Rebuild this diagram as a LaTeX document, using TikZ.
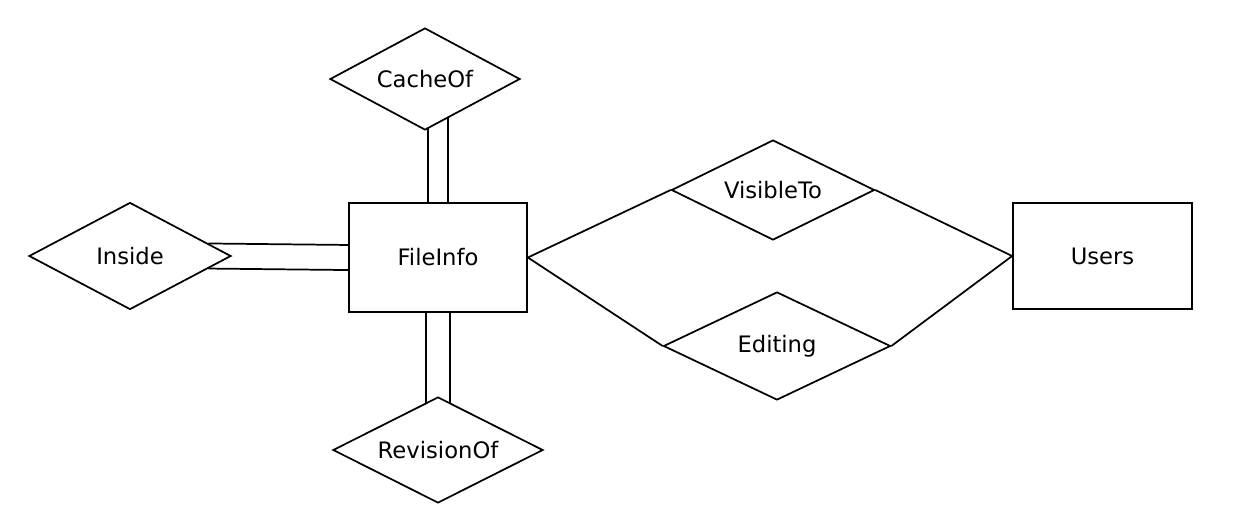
\documentclass[tikz,border=0pt]{standalone}
\usepackage{fontspec}
\setmainfont{DejaVu Sans}
\usetikzlibrary{shapes.geometric,backgrounds}

\tikzset{every picture/.style={line width=1.3pt}}
\tikzset{
  entity/.style={draw, rectangle, fill=white, inner sep=0pt, font=\fontsize{17}{20}\selectfont},
  relation/.style={draw, diamond, aspect=2, fill=white, inner sep=0pt, font=\fontsize{17}{20}\selectfont},
  dbl/.style={line width=1.3pt, double, double distance=#1},
  dbl/.default=13.7pt
}

\begin{document}
\begin{tikzpicture}[x=0.75pt,y=0.75pt,yscale=-1,xscale=1]
\useasboundingbox (0,0) rectangle (1245,522);

%Entities
\node (fileinfo) at (438,257.5) [entity, minimum width=133.5pt, minimum height=81.75pt] {FileInfo};
\node (users) at (1102.5,256) [entity, minimum width=134.25pt, minimum height=79.5pt] {Users};

%Relations
\node (cacheof) at (425,79) [relation, minimum width=142.5pt, minimum height=76.5pt] {CacheOf};
\node (insiderel) at (130,256) [relation, minimum width=151.5pt, minimum height=80.25pt] {Inside};
\node (revisionof) at (438,450) [relation, minimum width=157.5pt, minimum height=79.5pt] {RevisionOf};
\node (visibleto) at (773,190) [relation, minimum width=152.25pt, minimum height=75pt] {VisibleTo};
\node (editing) at (777,346) [relation, minimum width=170.25pt, minimum height=81pt] {Editing};

%Connectors
\begin{scope}[on background layer]
\draw [dbl] (cacheof.center -| fileinfo.north) -- (fileinfo.center) ;
\draw [dbl=16.7pt] (fileinfo.center) -- (revisionof.center -| fileinfo.center) ;
\end{scope}
\draw    ([xshift=-17.7pt,yshift=9.4pt]insiderel.east) -- ([yshift=9.4pt]fileinfo.west) ;
\draw    ([xshift=-17.7pt,yshift=-9.4pt]insiderel.east) -- ([yshift=-9.4pt]fileinfo.west) ;
\draw    (fileinfo.east) -- (visibleto.west) ;
\draw    (fileinfo.east) -- (editing.west) ;
\draw    (visibleto.east) -- (users.west) ;
\draw    (editing.east) -- (users.west) ;

\end{tikzpicture}
\end{document}
